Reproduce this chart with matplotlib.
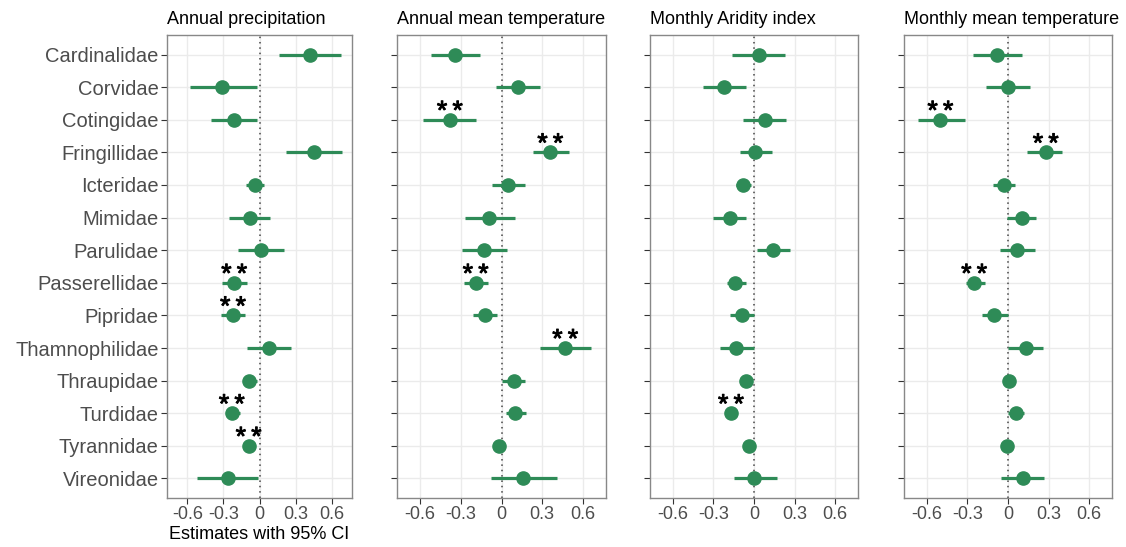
import matplotlib.pyplot as plt
import matplotlib.patheffects as pe

plt.rcParams['font.family'] = ['Liberation Sans', 'DejaVu Sans']

families = ['Cardinalidae', 'Corvidae', 'Cotingidae', 'Fringillidae', 'Icteridae',
            'Mimidae', 'Parulidae', 'Passerellidae', 'Pipridae', 'Thamnophilidae',
            'Thraupidae', 'Turdidae', 'Tyrannidae', 'Vireonidae']

titles = ['Annual precipitation', 'Annual mean temperature',
          'Monthly Aridity index', 'Monthly mean temperature']

# estimates and 95% CI per panel
precip_est = [0.42, -0.31, -0.21, 0.45, -0.04, -0.08, 0.01, -0.21, -0.22, 0.08, -0.09, -0.23, -0.09, -0.26]
precip_lo = [0.16, -0.58, -0.40, 0.22, -0.11, -0.25, -0.18, -0.31, -0.32, -0.10, -0.14, -0.28, -0.12, -0.52]
precip_hi = [0.68, -0.02, -0.02, 0.69, 0.04, 0.09, 0.20, -0.10, -0.12, 0.26, -0.02, -0.16, -0.05, -0.01]
precip_sig = [0, 0, 0, 0, 0, 0, 0, 1, 1, 0, 0, 1, 1, 0]

temp_est = [-0.34, 0.12, -0.38, 0.36, 0.05, -0.09, -0.13, -0.19, -0.12, 0.47, 0.09, 0.10, -0.02, 0.16]
temp_lo = [-0.52, -0.04, -0.58, 0.23, -0.07, -0.27, -0.29, -0.28, -0.21, 0.28, 0.00, 0.03, -0.04, -0.08]
temp_hi = [-0.16, 0.28, -0.19, 0.50, 0.17, 0.10, 0.04, -0.10, -0.03, 0.66, 0.17, 0.18, 0.00, 0.41]
temp_sig = [0, 0, 1, 1, 0, 0, 0, 1, 0, 1, 0, 0, 0, 0]

arid_est = [0.04, -0.22, 0.08, 0.01, -0.08, -0.18, 0.14, -0.14, -0.09, -0.13, -0.06, -0.17, -0.04, 0.00]
arid_lo = [-0.16, -0.38, -0.08, -0.10, -0.13, -0.30, 0.02, -0.20, -0.18, -0.25, -0.08, -0.19, -0.06, -0.15]
arid_hi = [0.23, -0.06, 0.24, 0.13, -0.02, -0.06, 0.27, -0.06, 0.00, 0.00, -0.04, -0.15, -0.02, 0.17]
arid_sig = [0, 0, 0, 0, 0, 0, 0, 0, 0, 0, 0, 1, 0, 0]

mtemp_est = [-0.08, 0.00, -0.50, 0.28, -0.03, 0.10, 0.07, -0.25, -0.10, 0.13, 0.01, 0.06, -0.01, 0.11]
mtemp_lo = [-0.26, -0.16, -0.67, 0.14, -0.11, -0.01, -0.06, -0.31, -0.19, 0.00, -0.01, 0.00, -0.03, -0.05]
mtemp_hi = [0.10, 0.16, -0.32, 0.40, 0.05, 0.21, 0.20, -0.17, 0.00, 0.26, 0.03, 0.12, 0.01, 0.27]
mtemp_sig = [0, 0, 1, 1, 0, 0, 0, 1, 0, 0, 0, 0, 0, 0]

panels = [(precip_est, precip_lo, precip_hi, precip_sig),
          (temp_est, temp_lo, temp_hi, temp_sig),
          (arid_est, arid_lo, arid_hi, arid_sig),
          (mtemp_est, mtemp_lo, mtemp_hi, mtemp_sig)]

ticks = [-0.6, -0.3, 0, 0.3, 0.6]
tick_labels = ['-0.6', '-0.3', '0', '0.3', '0.6']

W, H = 1126, 547
fig = plt.figure(figsize=(W / 100, H / 100), dpi=100)

# panel boxes in pixels: left, right
boxes = [(167, 352), (397, 606), (650, 858), (904, 1112)]
top, bottom = 35, 498
green = '#2E8B57'
pos = list(range(1, len(families) + 1))

for i, (box, title, data) in enumerate(zip(boxes, titles, panels)):
    est, lo, hi, sig = data
    ax = fig.add_axes([box[0] / W, 1 - bottom / H, (box[1] - box[0]) / W, (bottom - top) / H])
    ax.set_xlim(-0.77, 0.77)
    ax.set_ylim(len(families) + 0.6, 0.4)
    ax.grid(True, color='#EBEBEB', linewidth=1.0)
    ax.set_axisbelow(True)
    ax.axvline(0, color='#444444', linestyle=(0, (1, 2.5)), linewidth=1.1, zorder=1)
    ax.hlines(pos, lo, hi, color=green, linewidth=2.3, zorder=2)
    ax.plot(est, pos, 'o', color=green, markersize=9.5, zorder=3)
    for p, e, s in zip(pos, est, sig):
        if s:
            ax.text(e, p - 0.24, '*\u2009*', ha='center', va='center', fontsize=19,
                    color='black', zorder=4,
                    path_effects=[pe.withStroke(linewidth=0.7, foreground='black')])
    ax.set_xticks(ticks)
    ax.set_xticklabels(tick_labels)
    ax.set_yticks(pos)
    if i == 0:
        ax.set_yticklabels(families, fontsize=14.5, color='#4D4D4D')
        ax.set_xlabel('Estimates with 95% CI', fontsize=13, color='black', labelpad=2)
    else:
        ax.set_yticklabels([])
    ax.tick_params(axis='x', labelsize=13, labelcolor='#4D4D4D', color='#333333', length=4, pad=2)
    ax.tick_params(axis='y', color='#333333', length=4, pad=2)
    for sp in ax.spines.values():
        sp.set_color('#888888')
        sp.set_linewidth(1.0)
    ax.set_title(title, loc='left', fontsize=13, pad=8)

fig.savefig('out.png', dpi=100)
